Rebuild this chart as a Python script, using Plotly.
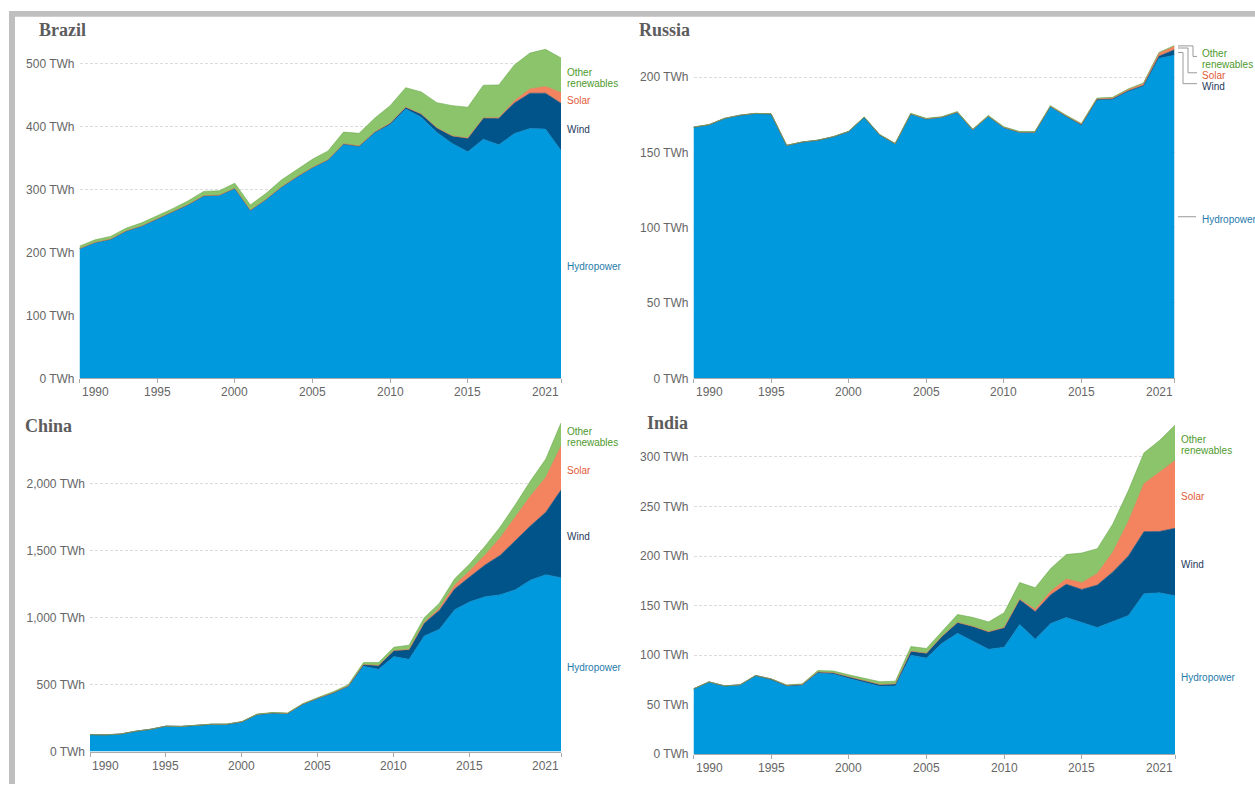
import plotly.graph_objects as go

# ---------------- data (TWh) ----------------
years = list(range(1990, 2022))
x_ticks = [1990, 1995, 2000, 2005, 2010, 2015, 2021]
source_names = ["Hydropower", "Wind", "Solar", "Other renewables"]

brazil_hydro = [206, 216, 221, 234, 242, 253, 264, 276, 290, 291, 302, 267, 284, 304, 320, 335,
                347, 372, 368, 390, 403, 428, 415, 391, 373, 360, 380, 371, 389, 397, 396, 362]
brazil_wind = [0, 0, 0, 0, 0, 0, 0, 0, 0, 0, 0, 0, 0.1, 0.1, 0.1, 0.1,
               0.2, 0.7, 1.2, 1.2, 2.2, 2.7, 5.1, 7, 12.2, 21.6, 33.5, 42.4, 48.5, 56, 57, 75]
brazil_solar = [0, 0, 0, 0, 0, 0, 0, 0, 0, 0, 0, 0, 0, 0, 0, 0,
                0, 0, 0, 0, 0, 0, 0, 0, 0, 0.1, 0.1, 0.8, 3.5, 6.7, 10.7, 17]
brazil_other = [4, 4, 4.5, 4.5, 5, 5, 5.5, 6, 7, 7, 8, 8.5, 9.5, 11, 12, 13,
                14, 18.5, 20, 22, 28, 31, 35, 40, 48, 49, 52, 52, 57, 57, 59, 55]

russia_hydro = [166.7, 168.3, 172.5, 174.6, 175.8, 175.5, 154.6, 156.8, 158.0, 160.3, 163.8,
                173.3, 161.6, 155.7, 175.5, 172.2, 173.3, 176.6, 165.0, 174.0, 166.5, 163.4,
                163.3, 180.5, 174.0, 168.2, 184.9, 185.3, 190.5, 194.0, 212.4, 214.5]
russia_wind = [0, 0, 0, 0, 0, 0, 0, 0, 0, 0, 0, 0, 0, 0, 0, 0,
               0, 0, 0, 0, 0, 0, 0, 0, 0.1, 0.1, 0.1, 0.1, 0.2, 0.3, 1.4, 3.6]
russia_solar = [0, 0, 0, 0, 0, 0, 0, 0, 0, 0, 0, 0, 0, 0, 0, 0,
                0, 0, 0, 0, 0, 0, 0, 0, 0.2, 0.4, 0.5, 0.6, 0.8, 1.3, 2.0, 2.3]
russia_other = [0.1, 0.1, 0.1, 0.1, 0.1, 0.1, 0.1, 0.1, 0.1, 0.1, 0.2, 0.2, 0.3, 0.3, 0.4, 0.4,
                0.4, 0.5, 0.5, 0.5, 0.5, 0.5, 0.5, 0.5, 0.5, 0.5, 0.5, 0.5, 0.5, 0.5, 0.5, 0.5]

china_hydro = [127, 125, 131, 152, 167, 190, 188, 196, 204, 204, 222, 277, 288, 284, 353, 397,
               436, 485, 637, 616, 710, 690, 864, 915, 1060, 1120, 1158, 1172, 1210, 1282, 1322, 1300]
china_wind = [0, 0, 0, 0, 0, 0, 0, 0, 0, 0, 0.6, 0.7, 0.9, 1, 1.3, 2,
              3.7, 5.7, 13, 27.6, 44.6, 70.3, 96, 141, 156, 186, 237, 295, 366, 406, 467, 655]
china_solar = [0, 0, 0, 0, 0, 0, 0, 0, 0, 0, 0, 0, 0, 0, 0, 0,
               0, 0.1, 0.2, 0.3, 0.7, 2.6, 6.4, 15.5, 29, 45, 75, 131, 177, 224, 261, 329]
china_other = [0, 0, 0, 0, 0, 0, 0.5, 1, 1.5, 2, 2.5, 3, 3, 3.5, 4, 5,
               7, 9, 15, 21, 25, 32, 34, 38, 46, 53, 65, 81, 93, 112, 136, 172]

india_hydro = [66, 73, 69, 70, 79, 75, 68.5, 69.5, 82, 81, 76.5, 72.5, 68.5, 69, 100, 97,
               112, 122, 114, 106, 108, 131, 116, 132, 138, 133, 128, 134, 140, 162, 163, 160]
india_wind = [0, 0, 0, 0, 0.5, 1, 1, 1, 1, 1.2, 1.6, 1.7, 2, 2, 4, 5,
              7, 11, 15, 17.5, 19.7, 24.9, 28, 29, 33.5, 33.3, 42.7, 50, 60, 62.6, 61.8, 68]
india_solar = [0, 0, 0, 0, 0, 0, 0, 0, 0, 0, 0, 0, 0, 0, 0, 0,
               0, 0, 0, 0, 0.1, 0.6, 2.3, 3.4, 5.3, 6.7, 11.7, 20, 35, 48.4, 60, 68.3]
india_other = [0, 0, 0, 0, 0, 0, 0.5, 0.5, 1.5, 1.8, 2, 2.5, 2.7, 2.7, 4.7, 4.7,
               5.3, 8, 9, 10, 15, 16.7, 21.7, 23, 24.7, 30, 25, 28.4, 31, 31, 31.7, 35.7]

# ---------------- styling ----------------
W, H = 1255, 791
FILL = {"Hydropower": "#0099dd", "Wind": "#00548a", "Solar": "#f4845f", "Other renewables": "#8cc46c"}
EDGE = {"Hydropower": "#0088c8", "Wind": "#004a7a", "Solar": "#e8714c", "Other renewables": "#6aa94a"}
TEXT = {"Hydropower": "#1f7bab", "Wind": "#1d3a5c", "Solar": "#e25a38", "Other renewables": "#4f9a2c"}
SANS = "Liberation Sans, Arial, sans-serif"
SERIF = "Liberation Serif, Times New Roman, serif"
LINE_H = 11      # label line height in px
TEXT_DROP = 2.5  # optical centring of label text on its anchor

panels = [
    dict(title="Brazil", series=[brazil_hydro, brazil_wind, brazil_solar, brazil_other],
         x0=79.5, x1=561, zero=381.7, ppu=0.635, ytop=530, yticks=[0, 100, 200, 300, 400, 500],
         title_at=(37, 30)),
    dict(title="Russia", series=[russia_hydro, russia_wind, russia_solar, russia_other],
         x0=693.5, x1=1174.5, zero=381.7, ppu=1.52, ytop=225, yticks=[0, 50, 100, 150, 200],
         title_at=(637, 30)),
    dict(title="China", series=[china_hydro, china_wind, china_solar, china_other],
         x0=90, x1=561, zero=758.3, ppu=0.135, ytop=2470, yticks=[0, 500, 1000, 1500, 2000],
         title_at=(23, 430)),
    dict(title="India", series=[india_hydro, india_wind, india_solar, india_other],
         x0=693.5, x1=1175, zero=761, ppu=1.0, ytop=335, yticks=[0, 50, 100, 150, 200, 250, 300],
         title_at=(645, 427)),
]


def px(v, p):
    """Vertical pixel position of a value in a panel."""
    return p["zero"] - v * p["ppu"]


fig = go.Figure()
annotations = []
shapes = []

for i, p in enumerate(panels):
    s = "" if i == 0 else str(i + 1)
    xa, ya = "x" + s, "y" + s

    for name, vals in zip(source_names, p["series"]):
        fig.add_trace(go.Scatter(
            x=years, y=vals, name=name, xaxis=xa, yaxis=ya,
            mode="lines", stackgroup="g" + str(i),
            line=dict(width=0.6, color=EDGE[name]),
            fillcolor=FILL[name], showlegend=False,
            hovertemplate=name + ": %{y:.1f} TWh<extra></extra>",
        ))

    fig.layout["xaxis" + s] = dict(
        domain=[p["x0"] / W, p["x1"] / W], range=[years[0], years[-1]], anchor=ya,
        tickvals=x_ticks, showticklabels=False, ticks="outside", ticklen=4,
        tickcolor="#aaaaaa", showline=True, linecolor="#aaaaaa", linewidth=1,
        showgrid=False, zeroline=False, fixedrange=True,
    )
    fig.layout["yaxis" + s] = dict(
        domain=[1 - p["zero"] / H, 1 - px(p["ytop"], p) / H], range=[0, p["ytop"]], anchor=xa,
        tickvals=p["yticks"], ticktext=[f"{v:,} TWh" for v in p["yticks"]],
        tickfont=dict(family=SANS, size=12, color="#666666"), ticklabelstandoff=4,
        showgrid=True, gridcolor="#dcdcdc", griddash="3px,2px", gridwidth=1,
        zeroline=False, showline=False, ticks="", fixedrange=True,
    )

    # x tick labels: first one left-aligned, last one right-aligned
    for k, t in enumerate(x_ticks):
        anchor = "left" if k == 0 else ("right" if k == len(x_ticks) - 1 else "center")
        annotations.append(dict(
            x=t, xref=xa, y=1 - p["zero"] / H, yref="paper", yshift=-14,
            text=str(t), showarrow=False, xanchor=anchor, yanchor="middle",
            font=dict(family=SANS, size=12, color="#666666"),
        ))

    # panel title
    tx, ty = p["title_at"]
    annotations.append(dict(
        x=tx / W, y=1 - ty / H, xref="paper", yref="paper", text="<b>" + p["title"] + "</b>",
        showarrow=False, xanchor="left", yanchor="middle",
        font=dict(family=SERIF, size=18, color="#5c5c5c"),
    ))

    # series labels at the end of each band, pushed apart where they collide
    last = [vals[-1] for vals in p["series"]]
    cum, mids = 0, []
    for v in last:
        mids.append(px(cum + v / 2, p))
        cum += v
    stack_top = px(cum, p)
    labels = []
    for name, mid in zip(source_names, mids):
        lines = ["Other", "renewables"] if name == "Other renewables" else [name]
        labels.append(dict(name=name, lines=lines, mid=mid, h=len(lines) * LINE_H))
    labels.sort(key=lambda d: d["mid"])
    bound = stack_top
    for lab in labels:
        lab["y"] = max(lab["mid"], bound + lab["h"] / 2)
        bound = lab["y"] + lab["h"] / 2
    moved = [lab for lab in labels if lab["y"] - lab["mid"] > 1]
    use_leaders = len(moved) > 0
    label_x = p["x1"] + (25.5 if use_leaders else 4)

    for lab in labels:
        n = len(lab["lines"])
        for j, line in enumerate(lab["lines"]):
            ly = lab["y"] + (j - (n - 1) / 2) * LINE_H + TEXT_DROP
            annotations.append(dict(
                x=label_x / W, y=1 - ly / H, xref="paper", yref="paper", text=line,
                showarrow=False, xanchor="left", yanchor="middle",
                font=dict(family=SANS, size=10, color=TEXT[lab["name"]]),
            ))

    if use_leaders:
        xs = p["x1"] + 3.5
        xe = label_x - 3
        for k, lab in enumerate(moved):
            xm = p["x1"] + 18.5 - 5 * k
            path = (f"M {xs / W},{1 - lab['mid'] / H} L {xm / W},{1 - lab['mid'] / H} "
                    f"L {xm / W},{1 - lab['y'] / H} L {xe / W},{1 - lab['y'] / H}")
            shapes.append(dict(type="path", path=path, xref="paper", yref="paper",
                               line=dict(color="#9a9a9a", width=1)))
        for lab in labels:
            if lab in moved:
                continue
            shapes.append(dict(type="line", xref="paper", yref="paper",
                               x0=xs / W, x1=(xe - 1) / W, y0=1 - lab["y"] / H, y1=1 - lab["y"] / H,
                               line=dict(color="#9a9a9a", width=1)))

# frame bars along the top and left edges
shapes.append(dict(type="rect", xref="paper", yref="paper", x0=9 / W, x1=1, y0=1 - 17 / H, y1=1 - 11 / H,
                   line=dict(width=0), fillcolor="#bfbfbf", layer="above"))
shapes.append(dict(type="rect", xref="paper", yref="paper", x0=9 / W, x1=15 / W, y0=0, y1=1 - 11 / H,
                   line=dict(width=0), fillcolor="#bfbfbf", layer="above"))

fig.update_layout(
    width=W, height=H, margin=dict(l=0, r=0, t=0, b=0),
    paper_bgcolor="white", plot_bgcolor="white",
    annotations=annotations, shapes=shapes, showlegend=False,
    font=dict(family=SANS),
)

fig.write_html("out.html")
